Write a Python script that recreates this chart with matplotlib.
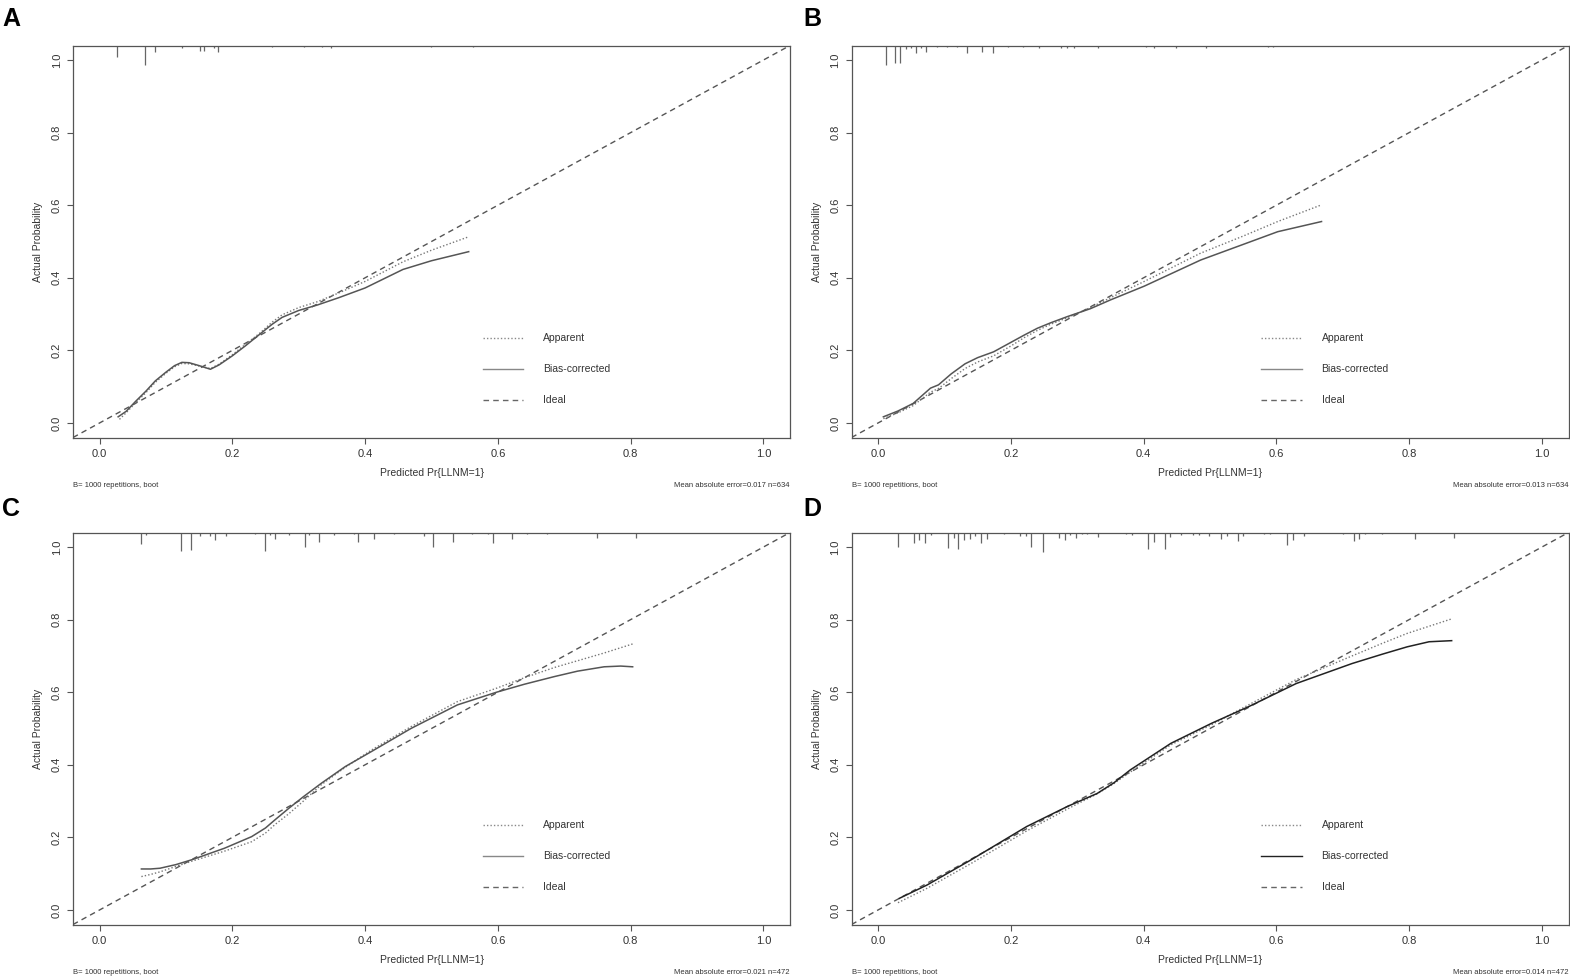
import numpy as np
import matplotlib
matplotlib.use("Agg")
import matplotlib.pyplot as plt

plt.rcParams['font.family'] = ['Liberation Sans Narrow', 'Liberation Sans', 'DejaVu Sans']

# ---- data ----
# panel A
a_app_x = [0.030, 0.040, 0.054, 0.070, 0.084, 0.100, 0.113, 0.124, 0.135, 0.150, 0.167, 0.180, 0.200,
           0.220, 0.243, 0.260, 0.275, 0.300, 0.328, 0.360, 0.400, 0.457, 0.500, 0.556]
a_app_y = [0.010, 0.028, 0.055, 0.084, 0.112, 0.137, 0.155, 0.164, 0.163, 0.157, 0.150, 0.162, 0.188,
           0.217, 0.250, 0.278, 0.298, 0.318, 0.334, 0.358, 0.390, 0.444, 0.476, 0.513]
a_bc_x = [0.028, 0.040, 0.054, 0.070, 0.084, 0.100, 0.113, 0.124, 0.135, 0.150, 0.167, 0.180, 0.200,
          0.220, 0.243, 0.260, 0.275, 0.300, 0.328, 0.360, 0.400, 0.457, 0.500, 0.556]
a_bc_y = [0.017, 0.032, 0.059, 0.088, 0.116, 0.140, 0.158, 0.167, 0.166, 0.158, 0.148, 0.160, 0.185,
          0.213, 0.247, 0.272, 0.291, 0.310, 0.325, 0.345, 0.372, 0.423, 0.447, 0.472]
a_rug_x = [0.027, 0.069, 0.083, 0.124, 0.151, 0.157, 0.172, 0.178, 0.260, 0.308, 0.335, 0.349, 0.500, 0.562]
a_rug_h = [0.033, 0.055, 0.017, 0.006, 0.014, 0.014, 0.006, 0.019, 0.003, 0.003, 0.003, 0.006, 0.003, 0.003]

# panel B
b_app_x = [0.008, 0.030, 0.053, 0.079, 0.091, 0.110, 0.131, 0.150, 0.174, 0.200, 0.220, 0.240, 0.260,
           0.285, 0.320, 0.350, 0.401, 0.486, 0.550, 0.602, 0.668]
b_app_y = [0.012, 0.028, 0.048, 0.085, 0.095, 0.122, 0.150, 0.168, 0.185, 0.212, 0.235, 0.255, 0.272,
           0.290, 0.318, 0.345, 0.390, 0.468, 0.515, 0.555, 0.601]
b_bc_x = [0.008, 0.030, 0.053, 0.079, 0.091, 0.110, 0.131, 0.150, 0.174, 0.200, 0.220, 0.240, 0.260,
          0.285, 0.320, 0.350, 0.401, 0.486, 0.550, 0.602, 0.668]
b_bc_y = [0.017, 0.033, 0.054, 0.096, 0.105, 0.135, 0.163, 0.180, 0.196, 0.222, 0.242, 0.261, 0.276,
          0.293, 0.315, 0.339, 0.377, 0.449, 0.492, 0.527, 0.555]
b_rug_x = [0.012, 0.026, 0.033, 0.042, 0.050, 0.057, 0.065, 0.072, 0.089, 0.104, 0.119, 0.134, 0.157,
           0.173, 0.196, 0.219, 0.242, 0.275, 0.285, 0.295, 0.332, 0.403, 0.415, 0.449, 0.494, 0.588, 0.595]
b_rug_h = [0.055, 0.047, 0.047, 0.011, 0.008, 0.022, 0.008, 0.019, 0.003, 0.003, 0.003, 0.022, 0.017,
           0.022, 0.003, 0.003, 0.006, 0.006, 0.006, 0.006, 0.008, 0.003, 0.006, 0.006, 0.008, 0.003, 0.003]

# panel C
c_app_x = [0.063, 0.077, 0.091, 0.115, 0.140, 0.188, 0.229, 0.250, 0.264, 0.285, 0.307, 0.334, 0.370,
           0.409, 0.469, 0.539, 0.598, 0.640, 0.685, 0.760, 0.803]
c_app_y = [0.092, 0.098, 0.105, 0.120, 0.135, 0.162, 0.188, 0.212, 0.235, 0.265, 0.300, 0.345, 0.393,
           0.440, 0.505, 0.574, 0.611, 0.640, 0.668, 0.708, 0.733]
c_bc_x = [0.063, 0.077, 0.091, 0.115, 0.140, 0.188, 0.229, 0.250, 0.264, 0.285, 0.307, 0.334, 0.370,
          0.409, 0.469, 0.539, 0.598, 0.640, 0.685, 0.720, 0.760, 0.785, 0.803]
c_bc_y = [0.113, 0.113, 0.115, 0.125, 0.139, 0.170, 0.202, 0.226, 0.248, 0.280, 0.312, 0.349, 0.395,
          0.436, 0.500, 0.565, 0.600, 0.622, 0.643, 0.658, 0.670, 0.672, 0.670]
c_rug_x = [0.063, 0.070, 0.122, 0.137, 0.152, 0.167, 0.174, 0.190, 0.234, 0.249, 0.256, 0.264, 0.286,
           0.309, 0.316, 0.331, 0.353, 0.383, 0.390, 0.413, 0.443, 0.473, 0.488, 0.503, 0.532, 0.561,
           0.585, 0.592, 0.621, 0.644, 0.674, 0.749, 0.808]
c_rug_h = [0.032, 0.006, 0.052, 0.049, 0.009, 0.009, 0.020, 0.009, 0.003, 0.052, 0.006, 0.018, 0.007,
           0.041, 0.007, 0.026, 0.007, 0.003, 0.026, 0.018, 0.005, 0.002, 0.011, 0.039, 0.026, 0.003,
           0.003, 0.028, 0.018, 0.005, 0.003, 0.016, 0.016]

# panel D
d_app_x = [0.030, 0.074, 0.140, 0.224, 0.285, 0.330, 0.355, 0.380, 0.441, 0.502, 0.558, 0.630, 0.714,
           0.760, 0.797, 0.864]
d_app_y = [0.020, 0.060, 0.128, 0.218, 0.278, 0.320, 0.348, 0.380, 0.455, 0.510, 0.565, 0.635, 0.700,
           0.735, 0.762, 0.802]
d_bc_x = [0.032, 0.074, 0.140, 0.224, 0.285, 0.330, 0.355, 0.380, 0.441, 0.502, 0.558, 0.630, 0.714,
          0.760, 0.797, 0.830, 0.864]
d_bc_y = [0.032, 0.069, 0.138, 0.230, 0.285, 0.321, 0.350, 0.386, 0.459, 0.514, 0.560, 0.624, 0.679,
          0.705, 0.725, 0.739, 0.742]
d_rug_x = [0.030, 0.054, 0.062, 0.071, 0.080, 0.105, 0.114, 0.121, 0.130, 0.138, 0.146, 0.155, 0.164,
           0.189, 0.214, 0.223, 0.230, 0.248, 0.273, 0.281, 0.289, 0.298, 0.307, 0.314, 0.332, 0.374,
           0.382, 0.407, 0.415, 0.432, 0.440, 0.457, 0.474, 0.483, 0.499, 0.517, 0.525, 0.542, 0.550,
           0.582, 0.591, 0.616, 0.625, 0.642, 0.700, 0.717, 0.725, 0.734, 0.759, 0.783, 0.809, 0.868]
d_rug_h = [0.041, 0.029, 0.020, 0.030, 0.006, 0.044, 0.014, 0.046, 0.020, 0.017, 0.009, 0.028, 0.017,
           0.005, 0.009, 0.009, 0.039, 0.053, 0.014, 0.021, 0.007, 0.014, 0.005, 0.005, 0.012, 0.005,
           0.007, 0.046, 0.026, 0.046, 0.012, 0.006, 0.006, 0.006, 0.009, 0.017, 0.009, 0.023, 0.009,
           0.004, 0.004, 0.034, 0.020, 0.009, 0.005, 0.023, 0.017, 0.005, 0.005, 0.002, 0.018, 0.016]

letters = ['A', 'B', 'C', 'D']
mae = ['0.017', '0.013', '0.021', '0.014']
n_obs = ['634', '634', '472', '472']
ticks = [0.0, 0.2, 0.4, 0.6, 0.8, 1.0]
legend_labels = ['Apparent', 'Bias-corrected', 'Ideal']

panels = [
    (a_app_x, a_app_y, a_bc_x, a_bc_y, a_rug_x, a_rug_h),
    (b_app_x, b_app_y, b_bc_x, b_bc_y, b_rug_x, b_rug_h),
    (c_app_x, c_app_y, c_bc_x, c_bc_y, c_rug_x, c_rug_h),
    (d_app_x, d_app_y, d_bc_x, d_bc_y, d_rug_x, d_rug_h),
]

W, H = 1570, 977
fig = plt.figure(figsize=(W / 100, H / 100), dpi=100)

# axes boxes in pixels (left, top)
boxes = [(73, 45.5), (851.5, 45.5), (73, 532.5), (851.5, 532.5)]
bw, bh = 717, 392
axcol = '#555555'

for i, (ax_x, ax_y, bx, by, rx, rh) in enumerate(panels):
    left, top = boxes[i]
    ax = fig.add_axes([left / W, (H - top - bh) / H, bw / W, bh / H])
    ax.set_xlim(-0.04, 1.04)
    ax.set_ylim(-0.04, 1.04)

    # ideal line
    ax.plot([-0.04, 1.04], [-0.04, 1.04], color='#555555', lw=1.0, ls=(0, (4, 3)))
    # apparent and bias-corrected
    ax.plot(ax_x, ax_y, color='#777777', lw=1.0, ls=(0, (1, 1.5)))
    bc_col = '#222222' if i == 3 else '#555555'
    ax.plot(bx, by, color=bc_col, lw=1.1)
    # rug of events at top
    rx = np.array(rx)
    rh = np.array(rh)
    ax.vlines(rx, 1.04 - rh, 1.04, color='#666666', lw=0.9)

    # legend drawn like R's
    for k, (lab, ls, col) in enumerate(zip(legend_labels,
                                            [(0, (1, 1.5)), '-', (0, (4, 3))],
                                            ['#888888', '#888888' if i != 3 else '#222222', '#666666'])):
        yy = [0.234, 0.149, 0.063][k]
        ax.plot([0.577, 0.638], [yy, yy], color=col, lw=1.0, ls=ls)
        ax.text(0.668, yy, lab, fontsize=7.5, va='center', ha='left', color='#333333')

    ax.set_xticks(ticks)
    ax.set_yticks(ticks)
    ax.set_xticklabels(['%.1f' % t for t in ticks])
    ax.set_yticklabels(['%.1f' % t for t in ticks], rotation=90, va='center')
    ax.tick_params(direction='out', length=4, width=0.8, color=axcol,
                   labelsize=8, labelcolor='#333333', pad=4)
    for sp in ax.spines.values():
        sp.set_color(axcol)
        sp.set_linewidth(0.9)

    ax.text(0.5, -35.5 / bh, 'Predicted Pr{LLNM=1}', transform=ax.transAxes,
            ha='center', va='center', fontsize=7.5, color='#333333')
    ax.text(-35 / bw, 0.5, 'Actual Probability', transform=ax.transAxes,
            ha='center', va='center', rotation=90, fontsize=7.5, color='#333333')
    ax.text(0.0, -48 / bh, 'B= 1000 repetitions, boot', transform=ax.transAxes,
            ha='left', va='center', fontsize=5.5, color='#333333')
    ax.text(1.0, -48 / bh, 'Mean absolute error=%s n=%s' % (mae[i], n_obs[i]),
            transform=ax.transAxes, ha='right', va='center', fontsize=5.5, color='#333333')

# panel letters
letter_pos = [(2, 19), (803, 19), (2, 509), (803, 509)]
for lab, (px, py) in zip(letters, letter_pos):
    fig.text(px / W, 1 - py / H, lab, fontsize=18, fontweight='bold',
             family=['Liberation Sans', 'DejaVu Sans'], ha='left', va='center')

fig.savefig('out.png', dpi=100)
